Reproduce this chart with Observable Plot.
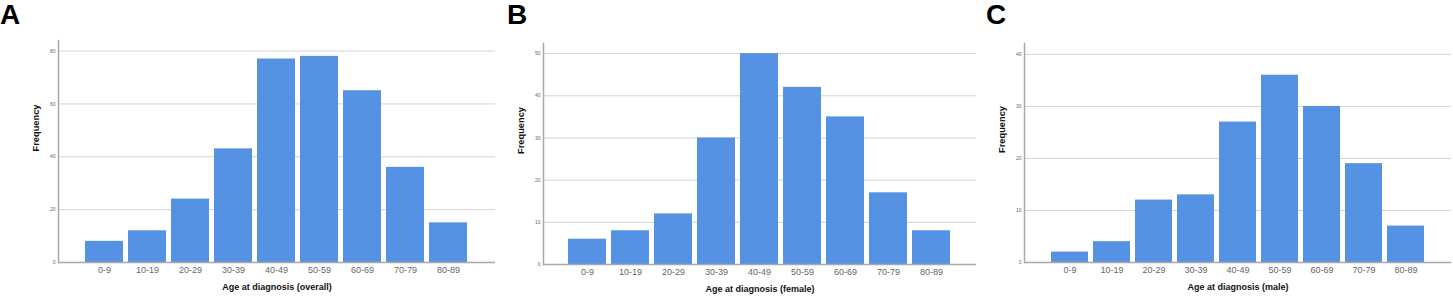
<!DOCTYPE html>
<html><head><meta charset="utf-8">
<script src="https://cdn.jsdelivr.net/npm/d3@7"></script>
<script src="https://cdn.jsdelivr.net/npm/@observablehq/plot@0.6"></script>
<style>
body{margin:0;background:#fff;font-family:"Liberation Sans",Arial,sans-serif;}
#wrap{position:relative;width:1453px;height:300px;overflow:hidden;background:#fff;}
.panel{position:absolute;top:0;}
.letter{position:absolute;top:1px;font-weight:bold;font-size:28px;line-height:1;color:#000;font-family:"Liberation Sans",Arial,sans-serif;}
</style></head><body><div id="wrap"></div>
<script>
const ageGroups = ["0-9","10-19","20-29","30-39","40-49","50-59","60-69","70-79","80-89"];
const overallCounts = [8,12,24,43,77,78,65,36,15];
const femaleCounts = [6,8,12,30,50,42,35,17,8];
const maleCounts = [2,4,12,13,27,36,30,19,7];
const overallTicks = [0,20,40,60,80];
const femaleTicks = [0,10,20,30,40,50];
const maleTicks = [0,10,20,30,40];
const panelLetters = ["A","B","C"];
const xTitles = ["Age at diagnosis (overall)","Age at diagnosis (female)","Age at diagnosis (male)"];
const yTitle = "Frequency";

const panels = [
  {counts: overallCounts, ticks: overallTicks, yMax: 84, left: 0, width: 500, mL: 58, mR: 5, mT: 40, mB: 38, letterX: 0},
  {counts: femaleCounts, ticks: femaleTicks, yMax: 52.4, left: 490, width: 490, mL: 53, mR: 4, mT: 43, mB: 36, letterX: 507},
  {counts: maleCounts, ticks: maleTicks, yMax: 42.1, left: 975, width: 478, mL: 49, mR: 2, mT: 43, mB: 38, letterX: 986}
];

const wrap = document.getElementById("wrap");
panels.forEach((p, i) => {
  const data = ageGroups.map((g, j) => ({group: g, count: p.counts[j]}));
  const chart = Plot.plot({
    width: p.width, height: 300,
    marginLeft: p.mL, marginRight: p.mR, marginTop: p.mT, marginBottom: p.mB,
    style: {fontFamily: "'Liberation Sans', Arial, sans-serif", background: "transparent", overflow: "visible"},
    x: {domain: ageGroups, paddingInner: 0.11, paddingOuter: 0.55, label: null},
    y: {domain: [0, p.yMax], label: null},
    marks: [
      Plot.gridY(p.ticks, {stroke: "#d4d4d4", strokeOpacity: 1, strokeWidth: 1}),
      Plot.barY(data, {x: "group", y: "count", fill: "#5592e3"}),
      Plot.ruleY([0], {stroke: "#a8a8a8", strokeWidth: 1.5}),
      Plot.frame({anchor: "left", stroke: "#a8a8a8", strokeWidth: 1.5}),
      Plot.axisY({ticks: p.ticks, tickSize: 0, tickPadding: 3, fontSize: 5, color: "#666", label: null}),
      Plot.axisX({tickSize: 0, tickPadding: 4, fontSize: 9, color: "#666", label: null}),
      Plot.text([yTitle], {frameAnchor: "left", rotate: -90, dx: -22, fontSize: 9.3, fontWeight: "bold", fill: "#111"}),
      Plot.text([xTitles[i]], {frameAnchor: "bottom", dy: 27, fontSize: 9, fontWeight: "bold", fill: "#111"})
    ]
  });
  chart.classList.add("panel");
  chart.style.left = p.left + "px";
  wrap.appendChild(chart);
  const L = document.createElement("div");
  L.className = "letter";
  L.style.left = p.letterX + "px";
  L.textContent = panelLetters[i];
  wrap.appendChild(L);
});
</script>
</body></html>
